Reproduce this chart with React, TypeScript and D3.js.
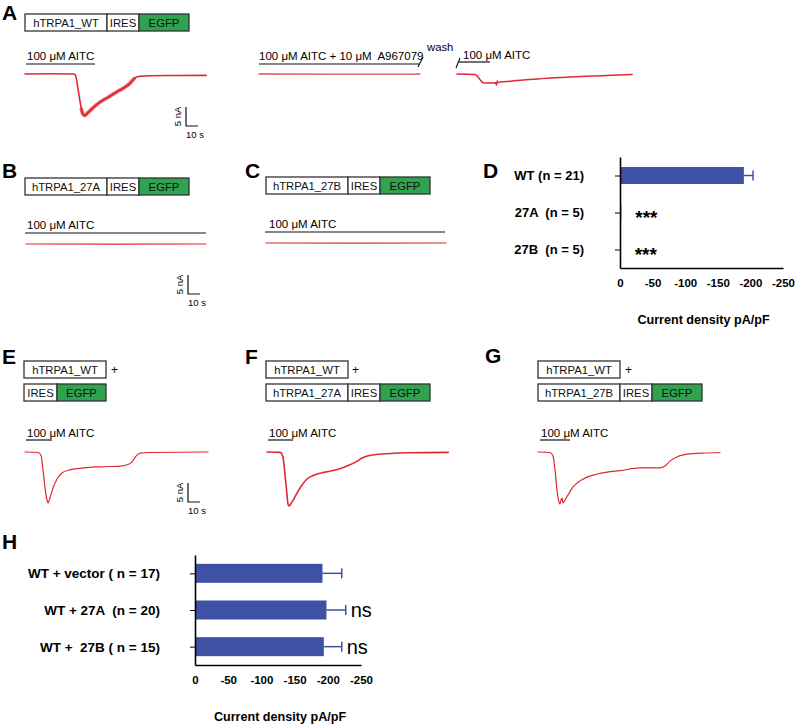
import { useEffect, useRef } from "react";
import * as d3 from "d3";

type Pt = [number, number];

// whole-cell current traces, [time (s), current (nA)]
const traceWT: Pt[] = [
  [0, 0], [20, 0.05], [41, 0], [42, -0.3], [43, -1.5], [44, -3.5], [45, -5.5], [46, -7.5],
  [47, -9.2], [48, -10.4], [50, -10.9], [52, -10.3], [54, -9.7], [56, -9.1], [58, -8.5],
  [60, -8.0], [63, -7.3], [66, -6.7], [69, -6.2], [72, -5.6], [75, -5.0], [78, -4.4],
  [81, -3.9], [84, -3.3], [87, -2.6], [89, -1.9], [91, -1.2], [93, -0.8], [97, -0.55],
  [105, -0.45], [125, -0.4], [151, -0.35],
];
const traceBlocked: Pt[] = [[0, 0], [60, -0.05], [134, 0]];
const traceWash: Pt[] = [
  [0, 0], [15, -0.1], [17.5, -0.8], [20, -1.8], [22.5, -2.4], [27, -2.4], [32, -2.3], [33, -2.9],
  [33.5, -1.8], [34, -2.3], [36, -2.1], [45, -1.9], [55, -1.6], [65, -1.35], [78, -1.05],
  [90, -0.85], [103, -0.65], [115, -0.5], [128, -0.35], [146, -0.1],
];
const trace27A: Pt[] = [[0, 0], [75, -0.05], [150, 0]];
const trace27B: Pt[] = [[0, 0], [75, -0.05], [150, 0]];
const traceWTvector: Pt[] = [
  [0, 0], [10.8, -0.13], [13.3, -0.8], [15, -4.7], [16.7, -9.5], [18.3, -12.6], [19.2, -13.4],
  [20.8, -12.1], [23.3, -9.5], [26.7, -7.1], [30.8, -5.5], [37.5, -4.7], [45.8, -4.3],
  [62.5, -3.9], [79.2, -3.7], [85.8, -3.3], [89.2, -2.6], [92.5, -1.1], [95.8, -0.3],
  [104.2, -0.13], [152.5, 0],
];
const traceWT27A: Pt[] = [
  [0, 0], [11, -0.1], [13.3, -1.3], [15, -6], [16.7, -11.3], [17.5, -13.7], [18.3, -14.2],
  [20.8, -13.2], [25, -10.8], [29.2, -8.7], [33.3, -7.1], [40, -6], [48.3, -5.3], [60, -4.5],
  [66.7, -3.7], [74.2, -2.6], [79.2, -1.6], [87.5, -0.8], [102.5, -0.4], [119, -0.2], [151, -0.1],
];
const traceWT27B: Pt[] = [
  [0, 0], [10, -0.13], [12.5, -1.05], [14.2, -4.7], [15.8, -10], [17.5, -13.2], [18.3, -13.7],
  [19.2, -12.6], [20, -12.1], [20.8, -13.4], [22.5, -12.6], [25, -11.3], [29.2, -9.2],
  [35, -7.6], [40.8, -6.6], [49.2, -5.8], [57.5, -5.3], [68.3, -4.9], [85, -4.2], [101.7, -4.2],
  [105.8, -3.7], [110, -2.4], [115.8, -1.3], [126.7, -0.5], [139.2, -0.26], [151.7, -0.13],
];

// current density summaries (pA/pF)
const dGroups = ["WT (n = 21)", "27A  (n = 5)", "27B  (n = 5)"];
const dMeans = [-190, -2, -1];
const dSems = [14, 0, 0];
const dSig = ["", "***", "***"];

const hGroups = ["WT + vector ( n = 17)", "WT + 27A  (n = 20)", "WT +  27B ( n = 15)"];
const hMeans = [-192, -198, -194];
const hSems = [29, 29, 27];
const hSig = ["", "ns", "ns"];

const densityTicks = [0, -50, -100, -150, -200, -250];

function App() {
  const ref = useRef<SVGSVGElement>(null);

  useEffect(() => {
    const svg = d3.select(ref.current);
    svg.selectAll("*").remove();
    svg.attr("font-family", "'Liberation Sans', Arial, sans-serif");

    const red = "#e2282f";
    const blue = "#3f51a4";
    const green = "#2fa34e";

    // time / current scales shared by traces and scale bars
    const tx = d3.scaleLinear().domain([0, 10]).range([0, 12]);
    const ty = d3.scaleLinear().domain([0, -5]).range([0, 19]);

    const letter = (s: string, x: number, y: number) =>
      svg.append("text").attr("x", x).attr("y", y).attr("font-size", 21)
        .attr("font-weight", "bold").text(s);

    const construct = (x: number, y: number, parts: [string, number, boolean][]) => {
      let cx = x;
      parts.forEach(([label, w, gfp]) => {
        svg.append("rect").attr("x", cx).attr("y", y).attr("width", w).attr("height", 17)
          .attr("fill", gfp ? green : "#fff").attr("stroke", "#333").attr("stroke-width", 1.3);
        svg.append("text").attr("x", cx + w / 2).attr("y", y + 12.5)
          .attr("text-anchor", "middle").attr("font-size", 11.3).attr("fill", "#111").text(label);
        cx += w;
      });
    };

    const plus = (x: number, y: number) =>
      svg.append("text").attr("x", x).attr("y", y).attr("font-size", 12).text("+");

    const drug = (x: number, y: number, text: string, x1: number, x2: number, ly: number) => {
      svg.append("text").attr("x", x).attr("y", y).attr("font-size", 11.5)
        .style("white-space", "pre").text(text);
      svg.append("line").attr("x1", x1).attr("x2", x2).attr("y1", ly).attr("y2", ly)
        .attr("stroke", "#111").attr("stroke-width", 1.2);
    };

    const trace = (data: Pt[], x0: number, y0: number, w = 1.3, opacity = 1) => {
      const line = d3.line<Pt>().x(d => x0 + tx(d[0])).y(d => y0 + ty(d[1]))
        .curve(d3.curveMonotoneX);
      svg.append("path").attr("d", line(data)).attr("fill", "none")
        .attr("stroke", red).attr("stroke-width", w).attr("stroke-opacity", opacity)
        .attr("stroke-linejoin", "round").attr("stroke-linecap", "round");
    };

    const scaleBar = (x: number, y: number) => {
      svg.append("path")
        .attr("d", `M${x},${y - ty(-5)}V${y}H${x + tx(10)}`)
        .attr("fill", "none").attr("stroke", "#111").attr("stroke-width", 1.2);
      svg.append("text").attr("transform", `translate(${x - 5},${y - ty(-5) / 2}) rotate(-90)`)
        .attr("text-anchor", "middle").attr("font-size", 9.5).text("5 nA");
      svg.append("text").attr("x", x + tx(10) / 2 + 3).attr("y", y + 12)
        .attr("text-anchor", "middle").attr("font-size", 9.5).text("10 s");
    };

    const GENE = 82, IRES = 32, GFP = 50;

    // ---- A
    letter("A", 2, 20);
    construct(25, 14, [["hTRPA1_WT", GENE, false], ["IRES", IRES, false], ["EGFP", GFP, true]]);
    drug(27, 60, "100 μM AITC", 26, 95, 64);
    trace(traceWT, 25, 74, 1.6);
    // noisy phase of the WT response: same trace, broader stroke
    trace(traceWT.filter(d => d[0] >= 47 && d[0] <= 91), 25, 74, 3.6, 0.75);
    drug(259, 60, "100 μM AITC + 10 μM  A967079", 259, 419, 64);
    trace(traceBlocked, 259, 74, 1.3, 0.85);
    svg.append("line").attr("x1", 418).attr("y1", 67).attr("x2", 423).attr("y2", 57)
      .attr("stroke", "#111").attr("stroke-width", 1.1);
    svg.append("text").attr("x", 427).attr("y", 51).attr("font-size", 11.3).text("wash");
    svg.append("line").attr("x1", 456).attr("y1", 68).attr("x2", 460).attr("y2", 58)
      .attr("stroke", "#111").attr("stroke-width", 1.1);
    drug(463, 59, "100 μM AITC", 459, 490, 62);
    trace(traceWash, 457, 74, 1.5);
    scaleBar(186, 126);

    // ---- B, C
    letter("B", 2, 178);
    construct(25, 178, [["hTRPA1_27A", GENE, false], ["IRES", IRES, false], ["EGFP", GFP, true]]);
    drug(27, 229, "100 μM AITC", 25, 206, 233);
    trace(trace27A, 26, 244, 1.2);
    scaleBar(188, 294);

    letter("C", 245, 178);
    construct(266, 177, [["hTRPA1_27B", GENE, false], ["IRES", IRES, false], ["EGFP", GFP, true]]);
    drug(269, 228, "100 μM AITC", 265, 445, 232);
    trace(trace27B, 266, 243, 1.2);

    // ---- E, F, G
    letter("E", 2, 364);
    construct(24, 361, [["hTRPA1_WT", GENE, false]]);
    plus(111, 374);
    construct(24, 384, [["IRES", 33, false], ["EGFP", 49, true]]);
    drug(27, 437, "100 μM AITC", 26, 52, 440);
    trace(traceWTvector, 25, 452, 1.2);
    scaleBar(188, 502);

    letter("F", 245, 364);
    construct(266, 361, [["hTRPA1_WT", GENE, false]]);
    plus(352, 374);
    construct(266, 384, [["hTRPA1_27A", GENE, false], ["IRES", IRES, false], ["EGFP", GFP, true]]);
    drug(269, 437, "100 μM AITC", 268, 293, 440);
    trace(traceWT27A, 267, 452, 1.6);

    letter("G", 485, 363);
    construct(538, 361, [["hTRPA1_WT", GENE, false]]);
    plus(625, 374);
    construct(538, 384, [["hTRPA1_27B", GENE, false], ["IRES", IRES, false], ["EGFP", GFP, true]]);
    drug(541, 437, "100 μM AITC", 540, 570, 440);
    trace(traceWT27B, 538, 452, 1.2);

    // ---- bar charts
    const barChart = (
      cats: string[], means: number[], sems: number[], sig: string[],
      o: { x0: number; x1: number; y0: number; y1: number; barH: number; labelX: number;
        sigSize: number; sigBold: boolean; sigDy: number; titleY: number; labelSize: number }
    ) => {
      const x = d3.scaleLinear().domain([0, -250]).range([o.x0, o.x1]);
      const y = d3.scalePoint<string>().domain(cats).range([o.y0, o.y1]).padding(0.5);
      const g = svg.append("g");

      g.selectAll("rect.bar").data(means).join("rect").attr("class", "bar")
        .attr("x", x(0)).attr("y", (d, i) => y(cats[i])! - o.barH / 2)
        .attr("width", d => x(d) - x(0)).attr("height", o.barH).attr("fill", blue);

      means.forEach((m, i) => {
        if (!sems[i]) return;
        const cy = y(cats[i])!;
        g.append("line").attr("x1", x(m)).attr("x2", x(m - sems[i])).attr("y1", cy).attr("y2", cy)
          .attr("stroke", blue).attr("stroke-width", 1.5);
        g.append("line").attr("x1", x(m - sems[i])).attr("x2", x(m - sems[i]))
          .attr("y1", cy - 5).attr("y2", cy + 5).attr("stroke", blue).attr("stroke-width", 1.5);
      });

      const yAxis = g.append("g").attr("transform", `translate(${o.x0},0)`)
        .call(d3.axisLeft(y).tickSize(5).tickSizeOuter(0).tickFormat(() => ""));
      yAxis.select(".domain").attr("stroke-width", 1.6);
      yAxis.selectAll(".tick line").attr("stroke-width", 1);

      const xAxis = g.append("g").attr("transform", `translate(0,${o.y1})`)
        .call(d3.axisBottom(x).tickValues(densityTicks).tickSize(0).tickSizeOuter(0).tickPadding(11)
          .tickFormat(d => (d === 0 ? "0" : `-${Math.abs(+d)}`)));
      xAxis.select(".domain").attr("stroke-width", 1.6);
      xAxis.selectAll("text").attr("font-size", 11.5).attr("font-weight", "bold")
        .attr("font-family", "'Liberation Sans', Arial, sans-serif");

      g.selectAll("text.cat").data(cats).join("text").attr("class", "cat")
        .attr("x", o.labelX).attr("y", d => y(d)!).attr("dy", "0.36em")
        .attr("text-anchor", "end").attr("font-size", o.labelSize).attr("font-weight", "bold")
        .style("white-space", "pre").text(d => d);

      g.selectAll("text.sig").data(sig).join("text").attr("class", "sig")
        .attr("x", (d, i) => x(means[i] - sems[i]) + (sems[i] ? 5 : 14))
        .attr("y", (d, i) => y(cats[i])! + o.sigDy)
        .attr("font-size", o.sigSize).attr("font-weight", o.sigBold ? "bold" : "normal")
        .text(d => d);

      g.append("text").attr("x", (o.x0 + o.x1) / 2 + 2).attr("y", o.titleY)
        .attr("text-anchor", "middle").attr("font-size", 12.6).attr("font-weight", "bold")
        .text("Current density pA/pF");
    };

    letter("D", 483, 178);
    barChart(dGroups, dMeans, dSems, dSig, {
      x0: 620, x1: 783, y0: 157, y1: 268, barH: 17, labelX: 584,
      sigSize: 19, sigBold: true, sigDy: 11, titleY: 324, labelSize: 13,
    });

    letter("H", 2, 549);
    barChart(hGroups, hMeans, hSems, hSig, {
      x0: 195, x1: 361, y0: 555, y1: 665, barH: 19, labelX: 160,
      sigSize: 20, sigBold: false, sigDy: 7, titleY: 721, labelSize: 13.5,
    });
  }, []);

  return (
    <svg ref={ref} width={799} height={726}
      style={{ position: "absolute", left: 0, top: 0, background: "#fff" }} />
  );
}

export default App;
